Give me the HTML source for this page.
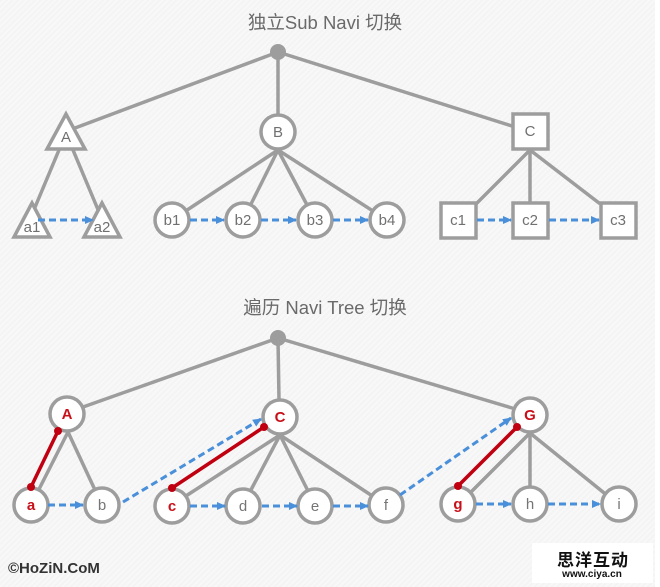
<!DOCTYPE html>
<html>
<head>
<meta charset="utf-8">
<style>
html,body{margin:0;padding:0;}
body{width:660px;height:587px;overflow:hidden;background:#fff;}
.bg{position:absolute;left:0;top:0;width:655px;height:587px;
background:repeating-linear-gradient(135deg,#f4f4f4 0px,#f4f4f4 2px,#f8f8f8 2px,#f8f8f8 4px);}
svg{position:absolute;left:0;top:0;}
</style>
</head>
<body>
<div class="bg"></div>
<svg width="660" height="587" viewBox="0 0 660 587" xmlns="http://www.w3.org/2000/svg">
<defs>
<marker id="ar" markerWidth="10" markerHeight="10" refX="8" refY="4" orient="auto" markerUnits="userSpaceOnUse">
<path d="M0,0 L9,4 L0,8 z" fill="#4a8fd9"/>
</marker>
</defs>

<!-- Titles -->
<text x="325" y="29" text-anchor="middle" font-family="Liberation Sans, Noto Sans CJK SC, sans-serif" font-size="18.5" fill="#6a6a6a">独立Sub Navi 切换</text>
<text x="325" y="314" text-anchor="middle" font-family="Liberation Sans, Noto Sans CJK SC, sans-serif" font-size="18.5" fill="#6a6a6a">遍历 Navi Tree 切换</text>

<!-- ===== TOP TREE ===== -->
<g stroke="#9d9d9d" stroke-width="3.5" fill="none" stroke-linecap="round">
<line x1="278" y1="52" x2="75" y2="128"/>
<line x1="278" y1="52" x2="278" y2="120"/>
<line x1="278" y1="52" x2="512" y2="126"/>
<line x1="59" y1="150" x2="33" y2="212"/>
<line x1="73" y1="150" x2="99" y2="212"/>
<line x1="278" y1="150" x2="172" y2="220"/>
<line x1="278" y1="150" x2="243" y2="220"/>
<line x1="278" y1="150" x2="315" y2="220"/>
<line x1="278" y1="150" x2="387" y2="220"/>
<line x1="530" y1="150" x2="477" y2="203"/>
<line x1="530" y1="150" x2="530" y2="203"/>
<line x1="530" y1="150" x2="599" y2="203"/>
</g>
<circle cx="278" cy="52" r="8" fill="#9d9d9d"/>

<g stroke="#9d9d9d" stroke-width="3.5" fill="#fff" stroke-linejoin="miter">
<polygon points="66,114 47,149 85,149"/>
<polygon points="32,203 14,237 50,237"/>
<polygon points="102,203 84,237 120,237"/>
<circle cx="278" cy="132" r="17"/>
<circle cx="172" cy="220" r="17"/>
<circle cx="243" cy="220" r="17"/>
<circle cx="315" cy="220" r="17"/>
<circle cx="387" cy="220" r="17"/>
<rect x="513" y="114" width="35" height="35"/>
<rect x="441" y="203" width="35" height="35"/>
<rect x="513" y="203" width="35" height="35"/>
<rect x="601" y="203" width="35" height="35"/>
</g>

<g font-family="Liberation Sans, sans-serif" font-size="15" fill="#707070" text-anchor="middle">
<text x="66" y="142">A</text>
<text x="32" y="232">a1</text>
<text x="102" y="232">a2</text>
<text x="278" y="137">B</text>
<text x="172" y="225">b1</text>
<text x="243" y="225">b2</text>
<text x="315" y="225">b3</text>
<text x="387" y="225">b4</text>
<text x="530" y="136">C</text>
<text x="458" y="225">c1</text>
<text x="530" y="225">c2</text>
<text x="618" y="225">c3</text>
</g>

<g stroke="#4a8fd9" stroke-width="3" stroke-dasharray="7,4" fill="none" marker-end="url(#ar)">
<line x1="38" y1="220" x2="93" y2="220"/>
<line x1="190" y1="220" x2="224" y2="220"/>
<line x1="261" y1="220" x2="296" y2="220"/>
<line x1="333" y1="220" x2="368" y2="220"/>
<line x1="477" y1="220" x2="511" y2="220"/>
<line x1="549" y1="220" x2="599" y2="220"/>
</g>

<!-- ===== BOTTOM TREE ===== -->
<g stroke="#9d9d9d" stroke-width="3.5" fill="none" stroke-linecap="round">
<line x1="278" y1="338" x2="83" y2="407"/>
<line x1="278" y1="338" x2="279" y2="400"/>
<line x1="278" y1="338" x2="512" y2="408"/>
<line x1="68" y1="432" x2="31" y2="505"/>
<line x1="68" y1="432" x2="102" y2="505"/>
<line x1="280" y1="435" x2="172" y2="505"/>
<line x1="280" y1="435" x2="243" y2="505"/>
<line x1="280" y1="435" x2="315" y2="505"/>
<line x1="280" y1="435" x2="386" y2="505"/>
<line x1="530" y1="433" x2="458" y2="505"/>
<line x1="530" y1="433" x2="530" y2="505"/>
<line x1="530" y1="433" x2="619" y2="505"/>
</g>
<circle cx="278" cy="338" r="8" fill="#9d9d9d"/>

<g stroke="#9d9d9d" stroke-width="3.5" fill="#fff">
<circle cx="67" cy="414" r="17"/>
<circle cx="280" cy="417" r="17"/>
<circle cx="530" cy="415" r="17"/>
<circle cx="31" cy="505" r="17"/>
<circle cx="102" cy="505" r="17"/>
<circle cx="172" cy="506" r="17"/>
<circle cx="243" cy="506" r="17"/>
<circle cx="315" cy="506" r="17"/>
<circle cx="386" cy="505" r="17"/>
<circle cx="458" cy="504" r="17"/>
<circle cx="530" cy="504" r="17"/>
<circle cx="619" cy="504" r="17"/>
</g>

<g font-family="Liberation Sans, sans-serif" font-size="15" text-anchor="middle">
<text x="67" y="419" fill="#c8101a" font-weight="bold">A</text>
<text x="280" y="422" fill="#c8101a" font-weight="bold">C</text>
<text x="530" y="420" fill="#c8101a" font-weight="bold">G</text>
<text x="31" y="510" fill="#c8101a" font-weight="bold">a</text>
<text x="102" y="510" fill="#757575">b</text>
<text x="172" y="511" fill="#c8101a" font-weight="bold">c</text>
<text x="243" y="511" fill="#757575">d</text>
<text x="315" y="511" fill="#757575">e</text>
<text x="386" y="510" fill="#757575">f</text>
<text x="458" y="509" fill="#c8101a" font-weight="bold">g</text>
<text x="530" y="509" fill="#757575">h</text>
<text x="619" y="509" fill="#757575">i</text>
</g>

<!-- red lines -->
<g stroke="#c00010" stroke-width="3.5" stroke-linecap="round">
<line x1="58" y1="431" x2="31" y2="487"/>
<line x1="264" y1="427" x2="172" y2="488"/>
<line x1="517" y1="427" x2="458" y2="486"/>
</g>
<g fill="#c00010">
<circle cx="58" cy="431" r="4"/>
<circle cx="31" cy="487" r="4"/>
<circle cx="264" cy="427" r="4"/>
<circle cx="172" cy="488" r="4"/>
<circle cx="517" cy="427" r="4"/>
<circle cx="458" cy="486" r="4"/>
</g>

<g stroke="#4a8fd9" stroke-width="3" stroke-dasharray="7,4" fill="none" marker-end="url(#ar)">
<line x1="48" y1="505" x2="83" y2="505"/>
<line x1="123" y1="502" x2="261" y2="419"/>
<line x1="190" y1="506" x2="225" y2="506"/>
<line x1="262" y1="506" x2="297" y2="506"/>
<line x1="333" y1="506" x2="368" y2="506"/>
<line x1="400" y1="495" x2="511" y2="418"/>
<line x1="476" y1="504" x2="511" y2="504"/>
<line x1="548" y1="504" x2="600" y2="504"/>
</g>

<!-- copyright -->
<text x="8" y="573" font-family="Liberation Sans, sans-serif" font-size="15" font-weight="bold" fill="#333">©HoZiN.CoM</text>

<!-- watermark -->
<rect x="532" y="543" width="121" height="40" fill="#fff"/>
<text x="593" y="566" text-anchor="middle" font-family="Liberation Sans, Noto Sans CJK SC, sans-serif" font-size="17" font-weight="bold" fill="#111" letter-spacing="1">思洋互动</text>
<text x="592" y="577" text-anchor="middle" font-family="Liberation Sans, sans-serif" font-size="10" font-weight="bold" fill="#111">www.ciya.cn</text>
</svg>
</body>
</html>
